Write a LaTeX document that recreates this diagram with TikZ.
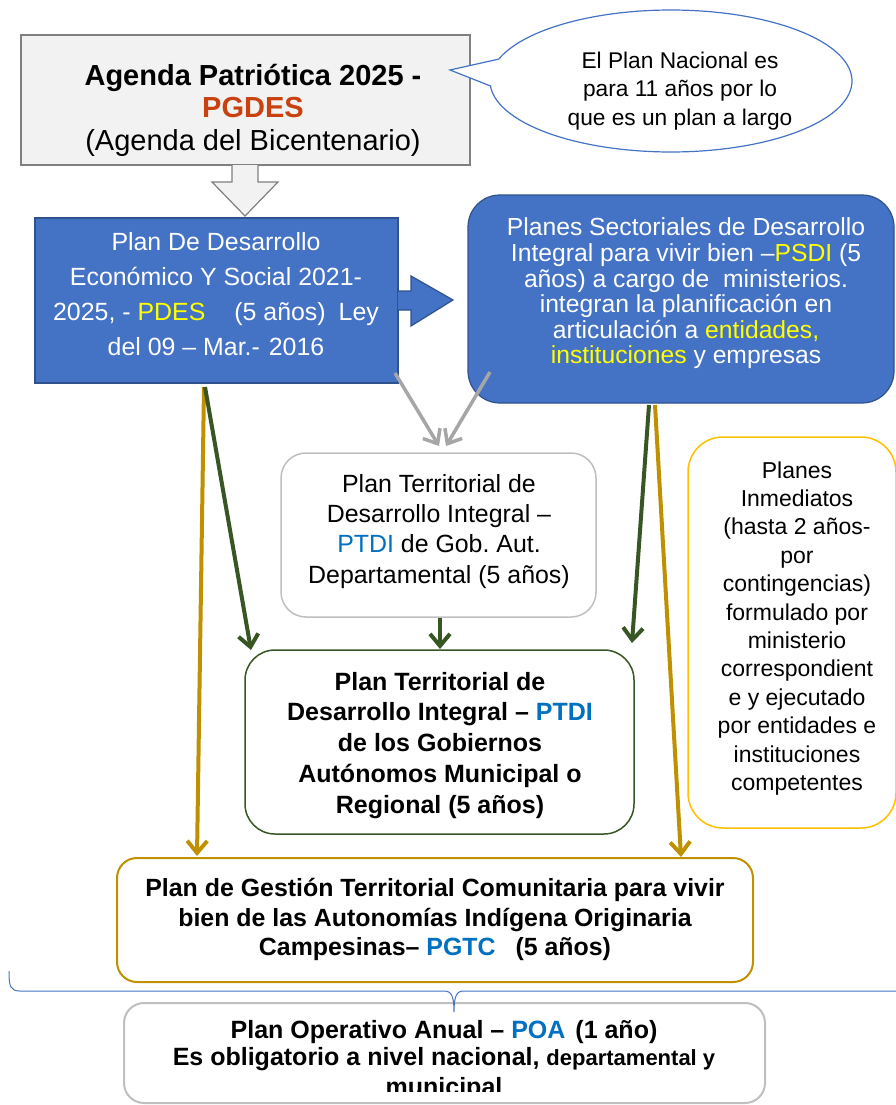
\documentclass[tikz,border=0pt]{standalone}
\usepackage{fontspec}
\setmainfont{Liberation Sans}
\usetikzlibrary{arrows.meta}
\definecolor{grayfill}{HTML}{F2F2F2}
\definecolor{grayline}{HTML}{808080}
\definecolor{blueA}{HTML}{4472C4}
\definecolor{blueB}{HTML}{2F528F}
\definecolor{yel}{HTML}{FFFF00}
\definecolor{orng}{HTML}{C9410F}
\definecolor{ptdi}{HTML}{0070C0}
\definecolor{grn}{HTML}{375623}
\definecolor{gold}{HTML}{BF9000}
\definecolor{amber}{HTML}{FFC000}
\definecolor{lgray}{HTML}{BFBFBF}
\definecolor{agray}{HTML}{A6A6A6}
\newcommand{\fsz}[2]{\fontsize{#1}{#2}\selectfont}
\frenchspacing
\begin{document}
\begin{tikzpicture}[x=1pt,y=-1pt,
  shapebox/.style={anchor=north west, inner sep=0pt, outer sep=0pt},
  txt/.style={anchor=north, inner sep=0pt, align=center, execute at begin node=\frenchspacing},
  conn/.style={line width=4pt, -{Straight Barb[length=12pt,width=20pt]}},
]
\useasboundingbox (0,0) rectangle (895,1105);

% top box
\node[shapebox, draw=grayline, fill=grayfill, line width=1.2pt, minimum width=449pt, minimum height=130pt] (agenda) at (21,35) {};
\node[txt, font=\fsz{29}{32.5}] (agendaT) at (253,62.25) {\strut\textbf{Agenda Patriótica 2025 -}\\\textbf{\textcolor{orng}{PGDES}}\\(Agenda del Bicentenario)};

% callout
\draw[blueA, line width=1.2pt, fill=white] plot[domain=198:536, samples=160] ({671+181*cos(\x)},{81+71*sin(\x)}) -- (450,70) -- cycle;
\node[txt, font=\fsz{22.7}{28.5}] (calloutT) at (680,48) {\strut El Plan Nacional es\\para 11 años por lo\\que es un plan a largo};

% down block arrow
\draw[grayline, fill=grayfill, line width=1.2pt] (232,165) -- (232,182) -- (212,182) -- (245,216) -- (278,182) -- (258,182) -- (258,165);

% PDES box
\node[shapebox, draw=blueB, fill=blueA, line width=1.2pt, minimum width=363pt, minimum height=165pt] (pdes) at (35,218) {};
\node[txt, text=white, font=\fsz{24.9}{35}] (pdesT) at (216,225.5) {\strut Plan De Desarrollo\\Económico Y Social 2021-\\2025, - \textcolor{yel}{PDES}\hspace{29pt}(5 años)\hspace{13pt}Ley\\del 09 – Mar.-\hspace{9pt}2016};

% right block arrow
\draw[blueB, fill=blueA, line width=1.2pt] (398,291) -- (411,291) -- (411,276) -- (453,300) -- (411,326) -- (411,310) -- (398,310);

% PSDI box
\node[shapebox, draw=blueB, fill=blueA, line width=1.2pt, rounded corners=32pt, minimum width=426pt, minimum height=208pt] (psdi) at (468,195) {};
\node[txt, text=white, font=\fsz{24.7}{25.5}] (psdiT) at (686,217) {\strut Planes Sectoriales de Desarrollo\\Integral para vivir bien –\textcolor{yel}{PSDI} (5\\años) a cargo de~ ministerios.\\integran la planificación en\\articulación a \textcolor{yel}{entidades,}\\\textcolor{yel}{instituciones} y empresas};

% PTDI departamental
\node[shapebox, draw=lgray, fill=white, line width=1.5pt, rounded corners=25pt, minimum width=315pt, minimum height=164pt] (ptdid) at (281,453) {};
\node[txt, font=\fsz{24.9}{30.3}] (ptdidT) at (439,470.8) {\strut Plan Territorial de\\Desarrollo Integral –\\\textcolor{ptdi}{PTDI} de Gob. Aut.\\Departamental (5 años)};

% PTDI municipal
\node[shapebox, draw=grn, fill=white, line width=1.5pt, rounded corners=30pt, minimum width=389pt, minimum height=184pt] (ptdim) at (245,650) {};
\node[txt, font=\bfseries\fsz{25}{30.75}] (ptdimT) at (440,668.5) {\strut Plan Territorial de\\Desarrollo Integral – \textcolor{ptdi}{PTDI}\\de los Gobiernos\\Autónomos Municipal o\\Regional (5 años)};

% Planes inmediatos
\node[shapebox, draw=amber, fill=white, line width=1.5pt, rounded corners=35pt, minimum width=208pt, minimum height=391pt] (inmed) at (688,437) {};
\node[txt, font=\fsz{23}{28.4}] (inmedT) at (797,458) {\strut Planes\\Inmediatos\\(hasta 2 años-\\por\\contingencias)\\formulado por\\ministerio\\correspondient\\e y ejecutado\\por entidades e\\instituciones\\competentes};

% PGTC
\node[shapebox, draw=gold, fill=white, line width=2pt, rounded corners=20pt, minimum width=636pt, minimum height=124pt] (pgtc) at (117,858) {};
\node[txt, font=\bfseries\fsz{24.9}{29.5}] (pgtcT) at (435,876) {\strut Plan de Gestión Territorial Comunitaria para vivir\\bien de las Autonomías Indígena Originaria\\Campesinas– \textcolor{ptdi}{PGTC}\hspace{20pt}(5 años)};

% POA
\node[shapebox, draw=lgray, fill=white, line width=2pt, rounded corners=20pt, minimum width=641pt, minimum height=100pt] (poa) at (124,1003) {};
\begin{scope}
\clip (0,1004) rectangle (895,1091);
\node[txt, font=\bfseries\fsz{25}{27}] (poaT) at (444,1019) {\strut Plan Operativo Anual – \textcolor{ptdi}{POA}\hspace{10pt}(1 año)\\Es obligatorio a nivel nacional, {\fsz{22}{27}departamental y}\\[3pt]municipal};
\end{scope}

% brace
\draw[blueA, line width=1pt] (9,971) .. controls (9,986) and (10,991) .. (20,991) -- (444,991) .. controls (451,991) and (454,995) .. (454,1012) .. controls (454,995) and (457,991) .. (464,991) -- (897,991);

% connectors
\coordinate (g1s) at (395,373); \coordinate (g1e) at (439,446);
\coordinate (g2s) at (490,372); \coordinate (g2e) at (446,446);
\coordinate (pdesB) at (205,387);
\coordinate (pdesC) at (204,387);
\coordinate (ptdimA) at (251,650);
\coordinate (ptdidB) at (440,618);
\coordinate (ptdimB) at (440,649);
\coordinate (psdiA) at (649,405);
\coordinate (psdiB) at (655,405);
\coordinate (ptdimC) at (632,643);
\coordinate (pgtcA) at (197,856);
\coordinate (pgtcB) at (681,857);

\draw[conn, agray, line width=3.5pt] (g1s) -- (g1e);
\draw[conn, agray, line width=3.5pt] (g2s) -- (g2e);
\draw[conn, gold] (pdesC) -- (pgtcA);
\draw[conn, grn] (pdesB) -- (ptdimA);
\draw[conn, grn] (ptdidB) -- (ptdimB);
\draw[conn, grn] (psdiA) -- (ptdimC);
\draw[conn, gold] (psdiB) -- (pgtcB);
\end{tikzpicture}
\end{document}
